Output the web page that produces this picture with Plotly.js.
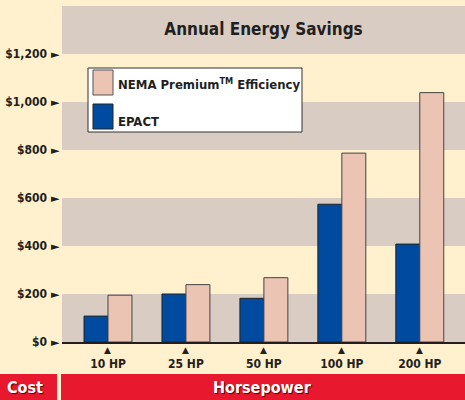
<!DOCTYPE html>
<html>
<head>
<meta charset="utf-8">
<script src="https://cdn.plot.ly/plotly-3.0.1.min.js"></script>
<style>html,body{margin:0;padding:0;background:#FFF0CE;}</style>
</head>
<body>
<div id="chart" style="width:465px;height:400px;"></div>
<script>
const categories = ['10 HP', '25 HP', '50 HP', '100 HP', '200 HP'];
const epactValues = [108, 200, 182, 574, 408];
const nemaValues = [195, 239, 268, 787, 1039];
const seriesNames = ['NEMA Premium<sup>TM</sup> Efficiency', 'EPACT'];
const yTickVals = [0, 200, 400, 600, 800, 1000, 1200];
const yTickLabels = ['$0', '$200', '$400', '$600', '$800', '$1,000', '$1,200'];
const titleText = 'Annual Energy Savings';
const footerLeft = 'Cost';
const footerRight = 'Horsepower';

const W = 465, H = 400;
const M = {l: 62, r: 0, t: 6, b: 58};
const plotW = W - M.l - M.r, plotH = H - M.t - M.b;
const px = x => (x - M.l) / plotW;
const py = y => (H - M.b - y) / plotH;

const FONT = 'DejaVu Sans Condensed, Liberation Sans Narrow, sans-serif';
const DARK = '#231F20';
const BLUE = '#004B9F';
const PINK = '#EBC4B4';
const GREY = '#D8CCC3';
const CREAM = '#FFF0CE';
const RED = '#E8192F';

const traces = [
  {type: 'bar', x: categories, y: epactValues, name: 'EPACT',
   marker: {color: BLUE, line: {color: '#222', width: 1}}, hoverinfo: 'none'},
  {type: 'bar', x: categories, y: nemaValues, name: 'NEMA',
   marker: {color: PINK, line: {color: '#444', width: 1}}, hoverinfo: 'none'}
];

const shapes = [];
for (let i = 0; i < yTickVals.length; i += 2) {
  shapes.push({type: 'rect', xref: 'paper', yref: 'y', x0: 0, x1: 1,
    y0: yTickVals[i], y1: yTickVals[i] + 200, fillcolor: GREY, line: {width: 0}, layer: 'below'});
}
shapes.push({type: 'rect', xref: 'paper', yref: 'paper', x0: px(0), x1: px(57), y0: py(400), y1: py(374),
  fillcolor: RED, line: {width: 0}});
shapes.push({type: 'rect', xref: 'paper', yref: 'paper', x0: px(61), x1: px(465), y0: py(400), y1: py(374),
  fillcolor: RED, line: {width: 0}});
shapes.push({type: 'rect', xref: 'paper', yref: 'paper', x0: px(88), x1: px(302), y0: py(132), y1: py(68),
  fillcolor: '#FFFFFF', line: {color: '#333', width: 1}});
shapes.push({type: 'rect', xref: 'paper', yref: 'paper', x0: px(93), x1: px(113), y0: py(95), y1: py(70),
  fillcolor: PINK, line: {color: '#555', width: 1}});
shapes.push({type: 'rect', xref: 'paper', yref: 'paper', x0: px(93), x1: px(113), y0: py(129), y1: py(104),
  fillcolor: BLUE, line: {color: '#222', width: 1}});

const annotations = [];
categories.forEach(c => {
  annotations.push({xref: 'x', yref: 'paper', x: c, y: py(350), xanchor: 'center', yanchor: 'middle',
    text: '▲', showarrow: false, font: {family: 'DejaVu Sans', size: 9, color: DARK}});
});
yTickVals.forEach(v => {
  annotations.push({xref: 'paper', yref: 'y', x: px(55), y: v, xanchor: 'center', yanchor: 'middle',
    text: '►', showarrow: false, font: {family: 'DejaVu Sans', size: 11, color: DARK}});
});
annotations.push({xref: 'paper', yref: 'paper', x: px(116), y: py(84), xanchor: 'left', yanchor: 'middle',
  text: seriesNames[0], showarrow: false, font: {family: FONT, size: 13, weight: 'bold', color: DARK}});
annotations.push({xref: 'paper', yref: 'paper', x: px(116), y: py(121), xanchor: 'left', yanchor: 'middle',
  text: seriesNames[1], showarrow: false, font: {family: FONT, size: 13, weight: 'bold', color: DARK}});
annotations.push({xref: 'paper', yref: 'paper', x: px(25), y: py(387), xanchor: 'center', yanchor: 'middle',
  text: footerLeft, showarrow: false,
  font: {family: FONT, size: 16, weight: 'bold', color: '#FFFFFF', shadow: '1px 1px 1px #5a0000'}});
annotations.push({xref: 'paper', yref: 'paper', x: px(262), y: py(387), xanchor: 'center', yanchor: 'middle',
  text: footerRight, showarrow: false,
  font: {family: FONT, size: 16, weight: 'bold', color: '#FFFFFF', shadow: '1px 1px 1px #5a0000'}});

const layout = {
  width: W, height: H,
  margin: M,
  paper_bgcolor: CREAM,
  plot_bgcolor: CREAM,
  showlegend: false,
  barmode: 'group',
  bargap: 0.385,
  bargroupgap: 0,
  title: {text: titleText, xref: 'paper', x: 0.5, xanchor: 'center', yref: 'container',
    y: 1 - 29 / H, yanchor: 'middle', font: {family: FONT, size: 17, weight: 'bold', color: DARK}},
  xaxis: {type: 'category', range: [-0.59, 4.58], showgrid: false, zeroline: false,
    showline: true, linecolor: DARK, linewidth: 2, ticks: '', ticklabelstandoff: 10,
    tickfont: {family: FONT, size: 12, weight: 'bold', color: DARK}, fixedrange: true},
  yaxis: {range: [0, 1400], showgrid: false, zeroline: false, showline: false, ticks: '',
    tickvals: yTickVals, ticktext: yTickLabels,
    ticklabelstandoff: 14,
    tickfont: {family: FONT, size: 12, weight: 'bold', color: DARK}, fixedrange: true},
  shapes: shapes,
  annotations: annotations
};

Plotly.newPlot('chart', traces, layout, {displayModeBar: false, staticPlot: true});
</script>
</body>
</html>
